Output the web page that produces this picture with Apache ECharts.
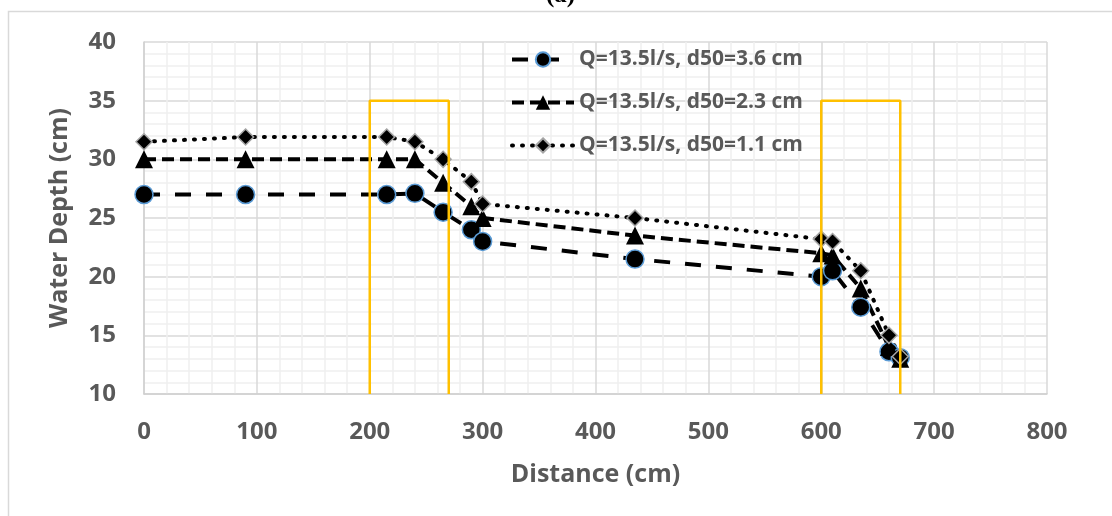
<!DOCTYPE html>
<html>
<head>
<meta charset="utf-8">
<script src="https://cdn.jsdelivr.net/npm/echarts@6/dist/echarts.min.js"></script>
<style>
  html, body { margin: 0; padding: 0; background: #fff; }
  #chart { width: 1112px; height: 516px; }
</style>
</head>
<body>
<div id="chart"></div>
<script>
// distance stations (cm)
var distance = [0, 90, 215, 240, 265, 290, 300, 435, 600, 610, 635, 660, 670];
// water depth (cm) for each run
var depthD36 = [27, 27, 27, 27.1, 25.5, 24, 23, 21.5, 20, 20.5, 17.4, 13.6, 13.1];
var depthD23 = [30, 30, 30, 30, 28, 26, 25, 23.5, 22, 21.8, 19, 14, 13];
var depthD11 = [31.5, 31.9, 31.9, 31.5, 30, 28.1, 26.2, 25, 23.2, 23, 20.5, 15, 13.2];
var seriesNames = ['Q=13.5l/s, d50=3.6 cm', 'Q=13.5l/s, d50=2.3 cm', 'Q=13.5l/s, d50=1.1 cm'];
// orange boxes: [x start, x end, top depth]
var boxes = [[200, 270, 35], [600, 670, 35]];

var labelColor = '#595959';
var fontFam = '"Open Sans", "Liberation Sans", sans-serif';

function pairs(ys) {
    var out = [];
    for (var i = 0; i < distance.length; i++) {
        out.push([distance[i], ys[i]]);
    }
    return out;
}

function boxData(b) {
    return [[b[0], 10], [b[0], b[2]], [b[1], b[2]], [b[1], 10]];
}

var chart = echarts.init(document.getElementById('chart'));

var series = [{
    name: seriesNames[0],
    type: 'line',
    data: pairs(depthD36),
    symbol: 'circle',
    symbolSize: 18,
    itemStyle: { color: '#000', borderColor: '#5b9bd5', borderWidth: 1.5 },
    lineStyle: { color: '#000', width: 4, type: [16, 15] }
}, {
    name: seriesNames[1],
    type: 'line',
    data: pairs(depthD23),
    symbol: 'triangle',
    symbolSize: 18,
    itemStyle: { color: '#000' },
    lineStyle: { color: '#000', width: 4, type: [12, 6] }
}, {
    name: seriesNames[2],
    type: 'line',
    data: pairs(depthD11),
    symbol: 'diamond',
    symbolSize: 16,
    itemStyle: { color: '#000', borderColor: '#a5a5a5', borderWidth: 1.5 },
    lineStyle: { color: '#000', width: 4, type: [1, 9], cap: 'round' }
}];

for (var k = 0; k < boxes.length; k++) {
    series.push({
        name: 'box' + k,
        type: 'line',
        data: boxData(boxes[k]),
        symbol: 'none',
        silent: true,
        z: 5,
        lineStyle: { color: '#ffc000', width: 2.5 }
    });
}

chart.setOption({
    animation: false,
    backgroundColor: '#fff',
    grid: { left: 144, right: 65, top: 42, bottom: 122 },
    legend: {
        data: seriesNames,
        orient: 'vertical',
        left: 505,
        top: 44,
        itemWidth: 62,
        itemHeight: 18,
        itemGap: 22,
        lineStyle: { width: 4 },
        textStyle: { color: labelColor, fontSize: 21, fontWeight: 'bold', fontFamily: fontFam }
    },
    graphic: [{
        type: 'polyline',
        silent: true,
        shape: { points: [[8.5, 520], [8.5, 11.5], [1112, 11.5]] },
        style: { stroke: '#d9d9d9', lineWidth: 1.5, fill: null }
    }, {
        type: 'text',
        left: 546,
        top: -17,
        style: { text: '(a)', font: 'bold 25px "Liberation Serif", serif', fill: '#000' }
    }],
    xAxis: {
        type: 'value',
        min: 0,
        max: 800,
        interval: 100,
        name: 'Distance (cm)',
        nameLocation: 'middle',
        nameGap: 68,
        nameTextStyle: { color: labelColor, fontSize: 25, fontWeight: 'bold', fontFamily: fontFam },
        axisLine: { show: true, lineStyle: { color: '#d0d0d0', width: 1.5 } },
        axisTick: { show: false },
        axisLabel: { color: labelColor, fontSize: 24, fontWeight: 'bold', fontFamily: fontFam, margin: 26 },
        splitLine: { show: true, lineStyle: { color: '#d9d9d9', width: 1.5 } },
        minorTick: { show: false, splitNumber: 5 },
        minorSplitLine: { show: true, lineStyle: { color: '#f0f0f0', width: 1.5 } }
    },
    yAxis: {
        type: 'value',
        min: 10,
        max: 40,
        interval: 5,
        name: 'Water Depth (cm)',
        nameLocation: 'middle',
        nameGap: 72,
        nameTextStyle: { color: labelColor, fontSize: 25, fontWeight: 'bold', fontFamily: fontFam },
        axisLine: { show: true, lineStyle: { color: '#d0d0d0', width: 1.5 } },
        axisTick: { show: false },
        axisLabel: { color: labelColor, fontSize: 24, fontWeight: 'bold', fontFamily: fontFam, margin: 28 },
        splitLine: { show: true, lineStyle: { color: '#d9d9d9', width: 1.5 } },
        minorTick: { show: false, splitNumber: 5 },
        minorSplitLine: { show: true, lineStyle: { color: '#f0f0f0', width: 1.5 } }
    },
    series: series
});
</script>
</body>
</html>
